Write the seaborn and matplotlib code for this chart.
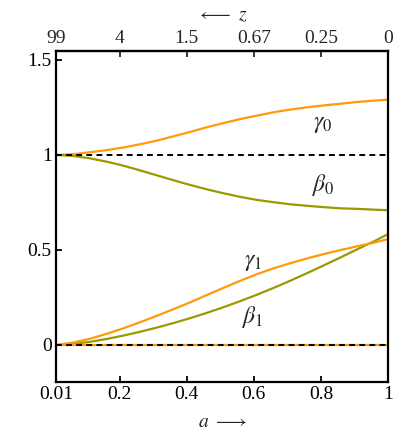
import numpy as np
import pandas as pd
import matplotlib
matplotlib.use("Agg")
import matplotlib.pyplot as plt
import seaborn as sns

# data
a_vals = [0.01, 0.06, 0.11, 0.16, 0.21, 0.26, 0.31, 0.36, 0.41, 0.46, 0.51,
          0.56, 0.61, 0.66, 0.71, 0.76, 0.81, 0.86, 0.91, 0.96, 1.0]
gamma0 = [1.0, 1.0035, 1.014, 1.025, 1.039, 1.056, 1.075, 1.098, 1.121, 1.146, 1.168,
          1.189, 1.207, 1.225, 1.239, 1.251, 1.261, 1.270, 1.279, 1.286, 1.291]
beta0 = [1.0, 0.995, 0.9825, 0.965, 0.944, 0.919, 0.893, 0.867, 0.842, 0.819, 0.798,
         0.779, 0.763, 0.751, 0.740, 0.732, 0.725, 0.719, 0.716, 0.712, 0.709]
gamma1 = [0.0, 0.012, 0.032, 0.058, 0.087, 0.119, 0.153, 0.188, 0.224, 0.263, 0.301,
          0.338, 0.373, 0.404, 0.431, 0.456, 0.479, 0.500, 0.520, 0.539, 0.557]
beta1 = [0.0, 0.005, 0.016, 0.031, 0.049, 0.069, 0.091, 0.115, 0.141, 0.169, 0.199,
         0.231, 0.265, 0.301, 0.339, 0.379, 0.420, 0.462, 0.505, 0.547, 0.583]
gamma2 = [0.0] * len(a_vals)

bottom_ticks = [0.01, 0.2, 0.4, 0.6, 0.8, 1.0]
bottom_labels = ["0.01", "0.2", "0.4", "0.6", "0.8", "1"]
top_labels = ["99", "4", "1.5", "0.67", "0.25", "0"]
y_ticks = [0, 0.5, 1, 1.5]
y_labels = ["0", "0.5", "1", "1.5"]

sns.set_style("white")
plt.rcParams["font.family"] = ["Liberation Serif", "DejaVu Serif"]
plt.rcParams["mathtext.fontset"] = "stix"

ORANGE = "#ff9a0a"
OLIVE = "#999a00"

fig = plt.figure(figsize=(4.15, 4.34), dpi=100)
ax = fig.add_axes([56 / 415, 1 - 382 / 434, 332 / 415, 331 / 434])

df = pd.DataFrame({"a": a_vals, "g0": gamma0, "b0": beta0, "g1": gamma1,
                   "b1": beta1, "g2": gamma2})
lw = 1.6
sns.lineplot(data=df, x="a", y="g0", color=ORANGE, lw=lw, ax=ax)
sns.lineplot(data=df, x="a", y="b0", color=OLIVE, lw=lw, ax=ax)
sns.lineplot(data=df, x="a", y="b1", color=OLIVE, lw=lw, ax=ax)
sns.lineplot(data=df, x="a", y="g1", color=ORANGE, lw=lw, ax=ax)
sns.lineplot(data=df, x="a", y="g2", color=ORANGE, lw=lw, ax=ax)
ax.axhline(1, color="black", lw=1.4, ls=(0, (3, 2.2)))
ax.axhline(0, color="black", lw=1.4, ls=(0, (3, 2.2)))

ax.set_xlim(0.01, 1.0)
ax.set_ylim(-0.195, 1.547)
ax.set_xticks(bottom_ticks, bottom_labels)
ax.set_yticks(y_ticks, y_labels)
ax.set_xlabel(r"$a\ \longrightarrow$", fontsize=14, labelpad=8)
ax.set_ylabel("")

fs = 14
ax.tick_params(axis="both", direction="in", length=4, width=1.3,
               labelsize=fs, colors="black", pad=3)
ax.tick_params(axis="x", bottom=True, top=False)
ax.tick_params(axis="y", left=True, right=False)
for s in ax.spines.values():
    s.set_visible(True)
    s.set_color("black")
    s.set_linewidth(1.6)

sec = ax.secondary_xaxis("top")
sec.set_xticks(bottom_ticks, top_labels)
sec.tick_params(direction="in", length=4, width=1.3, labelsize=fs, pad=3)
sec.spines["top"].set_linewidth(1.6)
sec.set_xlabel(r"$\longleftarrow\ z$", fontsize=14, labelpad=7)

lfs = 17
ax.text(0.806, 1.162, r"$\gamma_0$", fontsize=lfs, ha="center", va="center")
ax.text(0.806, 0.842, r"$\beta_0$", fontsize=lfs, ha="center", va="center")
ax.text(0.597, 0.432, r"$\gamma_1$", fontsize=lfs, ha="center", va="center")
ax.text(0.597, 0.147, r"$\beta_1$", fontsize=lfs, ha="center", va="center")

fig.savefig("out.png", dpi=100)
